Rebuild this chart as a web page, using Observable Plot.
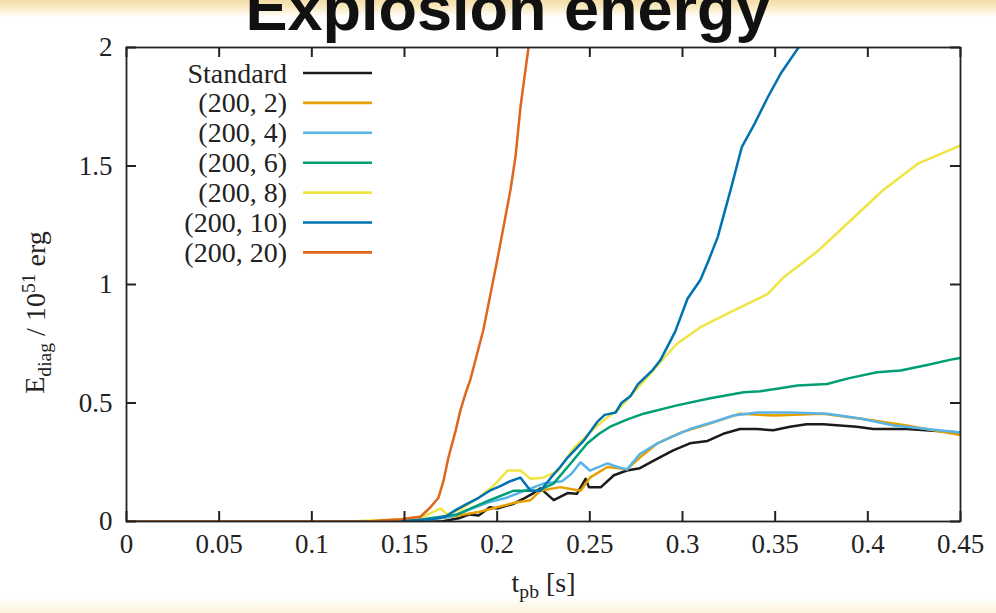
<!DOCTYPE html>
<html>
<head>
<meta charset="utf-8">
<script src="https://cdn.jsdelivr.net/npm/d3@7"></script>
<script src="https://cdn.jsdelivr.net/npm/@observablehq/plot@0.6"></script>
<style>
  html, body { margin: 0; padding: 0; }
  body {
    width: 996px; height: 613px; overflow: hidden;
    background: linear-gradient(to bottom, #f4dca6 0px, #f9ebc6 8px, #ffffff 17px, #ffffff 597px, #fbf2d6 613px);
    font-family: "Liberation Serif", serif;
  }
  #title {
    position: relative; height: 38px; z-index: 2;
  }
  #title span {
    position: absolute; left: 0; width: 1016px; text-align: center;
    top: -27px; font: bold 63px "Liberation Sans", Arial, sans-serif; color: #111;
    line-height: 70px; white-space: nowrap;
  }
  #chart svg { display: block; overflow: visible; }
</style>
</head>
<body>
<div id="title"><span>Explosion energy</span></div>
<div id="chart"></div>
<script>
// Axis ticks and their printed labels
const xTicks = [0, 0.05, 0.1, 0.15, 0.2, 0.25, 0.3, 0.35, 0.4, 0.45];
const xTickLabels = ["0", "0.05", "0.1", "0.15", "0.2", "0.25", "0.3", "0.35", "0.4", "0.45"];
const yTicks = [0, 0.5, 1, 1.5, 2];
const yTickLabels = ["0", "0.5", "1", "1.5", "2"];

// Model names and line colours
const seriesNames = ["Standard", "(200, 2)", "(200, 4)", "(200, 6)", "(200, 8)", "(200, 10)", "(200, 20)"];
const seriesColors = ["#1b1b1b", "#e69f00", "#56b4e9", "#009e73", "#f0e442", "#0072b2", "#e0661a"];

// Diagnostic explosion energy [10^51 erg] vs post-bounce time [s]: [t, E]
const standard = [[0,0],[0.17,0],[0.18,0.015],[0.185,0.03],[0.19,0.025],[0.196,0.06],[0.2,0.055],[0.209,0.075],[0.214,0.095],[0.2196,0.12],[0.2234,0.14],[0.2305,0.09],[0.238,0.12],[0.243,0.117],[0.2477,0.18],[0.2495,0.145],[0.256,0.145],[0.263,0.195],[0.27,0.215],[0.277,0.225],[0.2865,0.265],[0.295,0.30],[0.304,0.33],[0.3135,0.34],[0.322,0.37],[0.331,0.39],[0.34,0.39],[0.349,0.385],[0.358,0.40],[0.367,0.41],[0.376,0.41],[0.385,0.405],[0.394,0.40],[0.403,0.39],[0.421,0.39],[0.45,0.375]];
const m200_2 = [[0,0],[0.14,0],[0.16,0.005],[0.175,0.02],[0.19,0.04],[0.2,0.06],[0.21,0.08],[0.218,0.09],[0.2234,0.13],[0.234,0.145],[0.245,0.13],[0.25,0.185],[0.2595,0.23],[0.27,0.22],[0.277,0.27],[0.2865,0.33],[0.299,0.375],[0.3135,0.41],[0.331,0.455],[0.349,0.447],[0.376,0.455],[0.403,0.426],[0.421,0.405],[0.45,0.365]];
const m200_4 = [[0,0],[0.14,0],[0.16,0.005],[0.175,0.02],[0.185,0.05],[0.195,0.08],[0.205,0.1],[0.215,0.13],[0.225,0.16],[0.235,0.17],[0.24,0.2],[0.245,0.25],[0.25,0.215],[0.2595,0.245],[0.265,0.23],[0.27,0.22],[0.277,0.285],[0.2865,0.33],[0.295,0.36],[0.304,0.39],[0.3167,0.42],[0.3275,0.447],[0.3405,0.46],[0.358,0.46],[0.378,0.455],[0.396,0.435],[0.414,0.405],[0.432,0.39],[0.45,0.375]];
const m200_6 = [[0,0],[0.14,0],[0.16,0.01],[0.1786,0.03],[0.187,0.06],[0.196,0.09],[0.209,0.13],[0.222,0.13],[0.2304,0.16],[0.2396,0.245],[0.2487,0.33],[0.255,0.37],[0.261,0.40],[0.27,0.43],[0.279,0.455],[0.297,0.49],[0.315,0.52],[0.333,0.545],[0.342,0.55],[0.351,0.56],[0.362,0.574],[0.378,0.58],[0.39,0.605],[0.405,0.63],[0.4177,0.637],[0.432,0.66],[0.446,0.685],[0.45,0.69]];
const m200_8 = [[0,0],[0.12,0],[0.135,0.005],[0.15,0.01],[0.16,0.02],[0.1694,0.055],[0.173,0.03],[0.18,0.05],[0.19,0.1],[0.198,0.15],[0.2056,0.215],[0.2126,0.215],[0.218,0.18],[0.225,0.185],[0.233,0.215],[0.2413,0.31],[0.252,0.39],[0.258,0.43],[0.265,0.47],[0.272,0.53],[0.2845,0.64],[0.29,0.69],[0.297,0.75],[0.3097,0.82],[0.3275,0.89],[0.346,0.96],[0.3545,1.03],[0.3728,1.14],[0.3907,1.27],[0.4085,1.40],[0.427,1.51],[0.439,1.55],[0.45,1.587]];
const m200_10 = [[0,0],[0.13,0],[0.155,0.005],[0.165,0.01],[0.172,0.02],[0.178,0.05],[0.184,0.075],[0.19,0.1],[0.196,0.13],[0.202,0.15],[0.207,0.17],[0.2126,0.185],[0.218,0.13],[0.2234,0.13],[0.229,0.185],[0.234,0.23],[0.238,0.27],[0.2466,0.34],[0.254,0.42],[0.258,0.45],[0.264,0.46],[0.267,0.50],[0.272,0.53],[0.276,0.58],[0.284,0.64],[0.288,0.68],[0.296,0.80],[0.3027,0.94],[0.3097,1.02],[0.314,1.1],[0.319,1.20],[0.326,1.40],[0.332,1.58],[0.339,1.68],[0.346,1.79],[0.353,1.89],[0.3626,2.0]];
const m200_20 = [[0,0],[0.13,0],[0.14,0.005],[0.148,0.01],[0.153,0.015],[0.1586,0.02],[0.164,0.06],[0.1683,0.10],[0.171,0.17],[0.1737,0.27],[0.1775,0.38],[0.1802,0.47],[0.1829,0.54],[0.1856,0.6],[0.1926,0.81],[0.2002,1.11],[0.2072,1.40],[0.2099,1.54],[0.2126,1.75],[0.2169,2.0]];

const seriesPoints = [standard, m200_2, m200_4, m200_6, m200_8, m200_10, m200_20];
const rows = seriesPoints.flatMap((pts, i) => pts.map(([t, E]) => ({series: seriesNames[i], t, E})));

const xTitle = "t_pb [s]";
const yTitle = "E_diag / 10^51 erg";

const tickFmt = (ticks, labels) => d => labels[ticks.indexOf(d)];

// Frame geometry; tick marks are 10px long, pointing into the frame
const W = 996, H = 575, mL = 126, mR = 36, mT = 9, mB = 92;
const xDomain = [0, 0.45], yDomain = [0, 2];
const frameW = W - mL - mR, frameH = H - mT - mB, tickLen = 10;
const tickDx = (xDomain[1] - xDomain[0]) * tickLen / frameW;
const tickDy = (yDomain[1] - yDomain[0]) * tickLen / frameH;
const tickStyle = {stroke: "#222", strokeWidth: 2};

const chart = Plot.plot({
  width: W,
  height: H,
  marginLeft: mL,
  marginRight: mR,
  marginTop: mT,
  marginBottom: mB,
  x: {domain: xDomain},
  y: {domain: yDomain},
  color: {domain: seriesNames, range: seriesColors},
  style: {fontFamily: "'Liberation Serif', 'Times New Roman', serif", fontSize: "27px", color: "#222", background: "transparent"},
  marks: [
    Plot.line(rows, {x: "t", y: "E", z: "series", stroke: "series", strokeWidth: 2.5, clip: true}),
    Plot.ruleX(xTicks, {x: d => d, y1: yDomain[0], y2: yDomain[0] + tickDy, ...tickStyle}),
    Plot.ruleX(xTicks, {x: d => d, y1: yDomain[1] - tickDy, y2: yDomain[1], ...tickStyle}),
    Plot.ruleY(yTicks, {y: d => d, x1: xDomain[0], x2: xDomain[0] + tickDx, ...tickStyle}),
    Plot.ruleY(yTicks, {y: d => d, x1: xDomain[1] - tickDx, x2: xDomain[1], ...tickStyle}),
    Plot.frame({stroke: "#222", strokeWidth: 1.8}),
    Plot.axisX(xTicks, {anchor: "bottom", tickSize: 0, tickPadding: 12, tickFormat: tickFmt(xTicks, xTickLabels), fontSize: 27, label: null}),
    Plot.axisY(yTicks, {anchor: "left", tickSize: 0, tickPadding: 14, tickFormat: tickFmt(yTicks, yTickLabels), fontSize: 27, label: null}),
    Plot.text([xTitle], {frameAnchor: "bottom", dy: 70, text: d => d, textAnchor: "middle", fontSize: 28, fill: "#222"}),
    Plot.text([yTitle], {frameAnchor: "left", dx: -91, dy: 28, rotate: -90, text: d => d, textAnchor: "middle", fontSize: 28, fill: "#222"})
  ]
});

document.getElementById("chart").appendChild(chart);

// Sub/superscripts in the axis titles
const svg = d3.select(chart);
svg.selectAll("text").each(function() {
  const el = d3.select(this);
  const s = this.textContent;
  if (s === xTitle) {
    el.text(null);
    el.append("tspan").text("t");
    el.append("tspan").attr("font-size", "0.7em").attr("dy", "0.32em").text("pb");
    el.append("tspan").attr("dy", "-0.22em").text(" [s]");
  } else if (s === yTitle) {
    el.text(null);
    el.append("tspan").text("E");
    el.append("tspan").attr("font-size", "0.7em").attr("dy", "0.32em").text("diag");
    el.append("tspan").attr("dy", "-0.22em").text(" / 10");
    el.append("tspan").attr("font-size", "0.7em").attr("dy", "-0.5em").text("51");
    el.append("tspan").attr("dy", "0.35em").text(" erg");
  }
});

// Key in the upper-left corner of the frame
const key = svg.append("g").attr("font-family", "'Liberation Serif', 'Times New Roman', serif").attr("font-size", 28).attr("fill", "#222");
seriesNames.forEach((name, i) => {
  const y = mT + 26 + i * 29.9;
  key.append("text").attr("x", mL + 161).attr("y", y).attr("text-anchor", "end").attr("dy", "0.34em").text(name);
  key.append("line").attr("x1", mL + 177).attr("x2", mL + 246).attr("y1", y).attr("y2", y)
    .attr("stroke", seriesColors[i]).attr("stroke-width", 2.6);
});
</script>
</body>
</html>
